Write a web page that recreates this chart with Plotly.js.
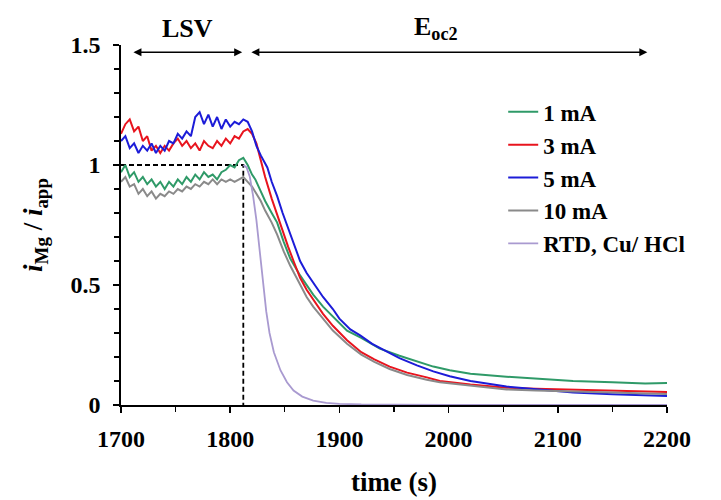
<!DOCTYPE html>
<html>
<head>
<meta charset="utf-8">
<script src="https://cdn.plot.ly/plotly-3.0.1.min.js"></script>
<style>
html,body{margin:0;padding:0;background:#fff;}
#chart{width:721px;height:500px;}
#chart text, #chart tspan { font-family: 'Liberation Serif', 'DejaVu Serif', serif !important; }
</style>
</head>
<body>
<div id="chart"></div>
<script>
// ---- data ----
const seriesNames = ['1 mA', '3 mA', '5 mA', '10 mA', 'RTD, Cu/ HCl'];

const time1mA = [1700,1704,1708,1712,1716,1720,1724,1728,1732,1736,1740,1744,1748,1752,1756,1760,1764,1768,1772,1776,1780,1784,1788,1792,1796,1800,1804,1808,1812,
  1816,1820,1823,1828,1832,1838,1843,1849,1855,1864,1870,1876,1885,1894,1907,1920,1937,1955,1968,1986,2001,2020,2053,2080,2114,2150,2180,2200];
const ratio1mA = [0.97,1.00,0.95,0.97,0.93,0.95,0.92,0.94,0.91,0.93,0.90,0.93,0.91,0.94,0.92,0.95,0.93,0.96,0.94,0.97,0.95,0.96,0.94,0.97,0.98,1.00,0.99,1.02,1.03,
  1.00,0.96,0.94,0.89,0.85,0.80,0.76,0.68,0.61,0.54,0.50,0.46,0.41,0.37,0.31,0.28,0.235,0.205,0.185,0.16,0.145,0.13,0.118,0.11,0.10,0.095,0.09,0.092];

const time3mA = [1700,1704,1708,1712,1716,1720,1724,1728,1732,1736,1740,1744,1748,1752,1756,1760,1764,1768,1772,1776,1780,1784,1788,1792,1796,1800,1804,1808,1812,1816,
  1820,1824,1828,1832,1838,1843,1848,1853,1858,1864,1870,1876,1885,1894,1907,1920,1932,1946,1962,1980,1992,2020,2053,2080,2114,2150,2180,2200];
const ratio3mA = [1.13,1.17,1.19,1.14,1.16,1.10,1.12,1.06,1.08,1.05,1.08,1.06,1.09,1.11,1.08,1.10,1.07,1.09,1.06,1.10,1.08,1.07,1.10,1.08,1.11,1.09,1.12,1.11,1.14,1.15,
  1.13,1.09,1.02,0.95,0.86,0.79,0.73,0.66,0.60,0.53,0.48,0.44,0.38,0.33,0.27,0.22,0.19,0.16,0.135,0.115,0.10,0.085,0.072,0.068,0.064,0.06,0.056,0.054];

const time5mA = [1700,1704,1708,1712,1716,1720,1724,1728,1732,1736,1740,1744,1748,1752,1756,1760,1764,1768,1772,1776,1780,1784,1788,1792,1796,1800,1804,1808,1812,1816,
  1820,1824,1828,1834,1838,1843,1848,1852,1857,1864,1870,1876,1885,1894,1900,1910,1919,1930,1943,1955,1971,1986,2001,2020,2053,2080,2114,2150,2180,2200];
const ratio5mA = [1.10,1.12,1.07,1.09,1.05,1.08,1.06,1.09,1.05,1.08,1.06,1.10,1.09,1.13,1.11,1.14,1.12,1.20,1.22,1.17,1.21,1.16,1.20,1.15,1.19,1.16,1.18,1.17,1.19,1.18,
  1.14,1.08,1.04,0.99,0.93,0.87,0.80,0.75,0.69,0.60,0.55,0.51,0.45,0.40,0.36,0.315,0.29,0.255,0.225,0.195,0.165,0.14,0.12,0.10,0.077,0.065,0.052,0.045,0.040,0.038];

const time10mA = [1700,1704,1708,1712,1716,1720,1724,1728,1732,1736,1740,1744,1748,1752,1756,1760,1764,1768,1772,1776,1780,1784,1788,1792,1796,1800,1804,1808,1812,
  1816,1820,1824,1828,1832,1838,1843,1849,1855,1864,1870,1876,1885,1894,1907,1920,1932,1946,1962,1980,1992,2020,2053,2080,2114,2150,2180,2200];
const ratio10mA = [0.93,0.95,0.91,0.92,0.88,0.90,0.87,0.89,0.86,0.88,0.87,0.89,0.88,0.90,0.89,0.91,0.90,0.92,0.91,0.93,0.92,0.94,0.92,0.94,0.93,0.94,0.93,0.94,0.95,
  0.93,0.91,0.88,0.85,0.81,0.76,0.71,0.64,0.58,0.50,0.45,0.41,0.36,0.31,0.255,0.21,0.18,0.15,0.125,0.105,0.095,0.08,0.065,0.06,0.057,0.052,0.048,0.046];

const timeRTD = [1812,1815,1818,1821,1824,1827,1830,1833,1836,1840,1846,1852,1858,1866,1876,1888,1900,1920,1950,2000,2200];
const ratioRTD = [1.00,0.99,0.95,0.87,0.77,0.64,0.50,0.39,0.30,0.22,0.145,0.095,0.06,0.035,0.018,0.009,0.005,0.002,0.001,0,0];

const refLineTime = [1700, 1812, 1812];
const refLineRatio = [1, 1, 0];

const phaseLabels = ['LSV', 'E<sub>oc2</sub>'];
const phaseStart = [1710, 1818];
const phaseEnd = [1811, 2182];

// ---- styles ----
const colors = ['#2f9a68', '#e8141e', '#1c1cd8', '#8a8a8a', '#a99ad0'];
const serif = 'Liberation Serif, DejaVu Serif, serif';

const xs = [time1mA, time3mA, time5mA, time10mA, timeRTD];
const ys = [ratio1mA, ratio3mA, ratio5mA, ratio10mA, ratioRTD];

const traces = [{
  x: refLineTime, y: refLineRatio, mode: 'lines', showlegend: false, hoverinfo: 'skip',
  line: {color: '#000', width: 1.8, dash: '5px,3px'}
}];
for (let i = 0; i < seriesNames.length; i++) {
  traces.push({
    x: xs[i], y: ys[i], name: seriesNames[i], mode: 'lines', legendgroup: 'g' + i,
    line: {color: colors[i], width: i === 4 ? 1.8 : 2}
  });
}

const annotations = [];
for (let i = 0; i < phaseLabels.length; i++) {
  annotations.push({
    x: phaseEnd[i], y: 1.47, ax: phaseStart[i], ay: 1.47, axref: 'x', ayref: 'y', xref: 'x', yref: 'y',
    text: '', showarrow: true, arrowhead: 2, startarrowhead: 2, arrowside: 'end+start',
    arrowsize: 1, startarrowsize: 1, arrowwidth: 1.6, arrowcolor: '#000'
  });
  annotations.push({
    x: (phaseStart[i] + phaseEnd[i]) / 2 + (i === 1 ? -12 : 0), y: 1.047, xref: 'x', yref: 'paper',
    yanchor: 'middle', text: '<b>' + phaseLabels[i] + '</b>', showarrow: false,
    font: {family: serif, size: 26, color: '#000', weight: 'bold'}
  });
}

const layout = {
  width: 721, height: 500,
  margin: {l: 121, r: 54, t: 45, b: 95},
  paper_bgcolor: '#fff', plot_bgcolor: '#fff',
  font: {family: serif, color: '#000'},
  xaxis: {
    range: [1700, 2200], dtick: 100, tick0: 1700,
    showgrid: false, zeroline: false, showline: true, linecolor: '#000', linewidth: 1.6,
    ticks: 'outside', ticklen: 6, tickwidth: 1.5, tickcolor: '#000', ticklabelstandoff: 6,
    minor: {dtick: 50, ticks: 'outside', ticklen: 5, tickwidth: 1.3, tickcolor: '#000'},
    tickfont: {family: serif, size: 24, weight: 'bold', color: '#000'},
    title: {text: '<b>time (s)</b>', font: {family: serif, size: 27, weight: 'bold', color: '#000'}, standoff: 20}
  },
  yaxis: {
    range: [0, 1.5], dtick: 0.5, tick0: 0,
    showgrid: false, zeroline: false, showline: true, linecolor: '#000', linewidth: 1.6,
    ticks: 'outside', ticklen: 6, tickwidth: 1.5, tickcolor: '#000', ticklabelstandoff: 8,
    minor: {dtick: 0.1, ticks: 'outside', ticklen: 5, tickwidth: 1.3, tickcolor: '#000'},
    tickfont: {family: serif, size: 24, weight: 'bold', color: '#000'},
    title: {text: '<b><i>i</i><sub>Mg</sub> / <i>i</i><sub>app</sub></b>', font: {family: serif, size: 27, weight: 'bold', color: '#000'}, standoff: 20}
  },
  legend: {
    x: 0.70, xanchor: 'left', y: 0.874, yanchor: 'top',
    bgcolor: 'rgba(255,255,255,0)', borderwidth: 0,
    font: {family: serif, size: 23, weight: 'bold', color: '#000'},
    tracegroupgap: 13, traceorder: 'normal'
  },
  annotations: annotations,
  showlegend: true
};

Plotly.newPlot('chart', traces, layout, {displayModeBar: false, staticPlot: true});
</script>
</body>
</html>
